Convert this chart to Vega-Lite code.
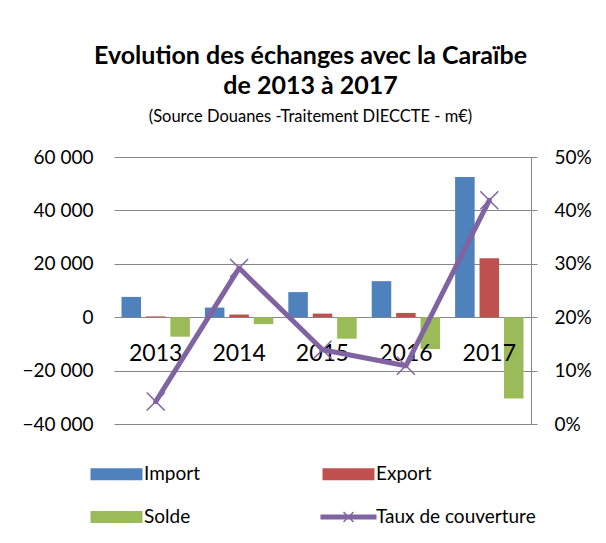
{
  "$schema": "https://vega.github.io/schema/vega-lite/v6.json",
  "width": 417,
  "height": 267,
  "autosize": "none",
  "padding": {"left": 114, "top": 157, "right": 75, "bottom": 119},
  "background": "white",
  "config": {
    "view": {"stroke": null},
    "font": "Lato",
    "axis": {"labelFont": "Lato", "labelColor": "#000000"},
    "legend": {"labelFont": "Lato"}
  },
  "title": {
    "text": ["Evolution des échanges avec la Caraïbe", "de 2013 à 2017"],
    "subtitle": "(Source Douanes -Traitement DIECCTE - m€)",
    "anchor": "middle",
    "dx": -12,
    "font": "Lato",
    "fontSize": 25,
    "fontWeight": "bold",
    "lineHeight": 30,
    "color": "#000000",
    "subtitleFont": "Lato",
    "subtitleFontSize": 16.5,
    "subtitleColor": "#000000",
    "subtitlePadding": 10,
    "offset": 23
  },
  "datasets": {
    "bars": [
      {"year": "2013", "serie": "Import", "value": 7600},
      {"year": "2013", "serie": "Export", "value": 300},
      {"year": "2013", "serie": "Solde", "value": -7300},
      {"year": "2014", "serie": "Import", "value": 3600},
      {"year": "2014", "serie": "Export", "value": 1000},
      {"year": "2014", "serie": "Solde", "value": -2600},
      {"year": "2015", "serie": "Import", "value": 9400},
      {"year": "2015", "serie": "Export", "value": 1350},
      {"year": "2015", "serie": "Solde", "value": -8050},
      {"year": "2016", "serie": "Import", "value": 13500},
      {"year": "2016", "serie": "Export", "value": 1600},
      {"year": "2016", "serie": "Solde", "value": -11900},
      {"year": "2017", "serie": "Import", "value": 52550},
      {"year": "2017", "serie": "Export", "value": 22100},
      {"year": "2017", "serie": "Solde", "value": -30450}
    ],
    "taux": [
      {"year": "2013", "taux": 0.042},
      {"year": "2014", "taux": 0.292},
      {"year": "2015", "taux": 0.139},
      {"year": "2016", "taux": 0.109},
      {"year": "2017", "taux": 0.419}
    ]
  },
  "encoding": {
    "x": {
      "field": "year",
      "type": "nominal",
      "scale": {"paddingInner": 0.18, "paddingOuter": 0.09},
      "axis": null
    }
  },
  "layer": [
    {
      "data": {"name": "bars"},
      "mark": {"type": "bar"},
      "encoding": {
        "xOffset": {
          "field": "serie",
          "type": "nominal",
          "scale": {"domain": ["Import", "Export", "Solde"], "paddingInner": 0.2, "paddingOuter": 0}
        },
        "y": {
          "field": "value",
          "type": "quantitative",
          "scale": {"domain": [-40000, 60000], "nice": false, "zero": false},
          "axis": {
            "title": null,
            "values": [-40000, -20000, 0, 20000, 40000, 60000],
            "labelExpr": "replace(format(datum.value, ',.0f'), ',', ' ')",
            "domain": false,
            "ticks": false,
            "grid": true,
            "gridColor": "#868686",
            "gridWidth": 1,
            "gridOpacity": 1,
            "labelFontSize": 19,
            "labelPadding": 21,
            "labelColor": "#000000"
          }
        },
        "color": {
          "field": "serie",
          "type": "nominal",
          "scale": {
            "domain": ["Import", "Export", "Solde", "Taux de couverture"],
            "range": ["#4F81BD", "#C0504D", "#9BBB59", "#8064A2"]
          },
          "legend": {
            "title": null,
            "orient": "none",
            "legendX": -7,
            "legendY": 307.5,
            "columns": 2,
            "direction": "horizontal",
            "padding": 0,
            "symbolSize": 144,
            "symbolStrokeWidth": 0,
            "symbolOpacity": 1,
            "labelOffset": 18,
            "labelFontSize": 19,
            "labelColor": "#000000",
            "rowPadding": 23,
            "columnPadding": 120,
            "labelLimit": 300,
            "encode": {
              "symbols": {
                "update": {
                  "shape": {"signal": "datum.value === 'Taux de couverture' ? 'M-4.67,-0.417H4.67V0.417H-4.67Z M-0.745,-0.921L0.921,0.745L0.745,0.921L-0.921,-0.745Z M-0.921,0.745L0.745,-0.921L0.921,-0.745L-0.745,0.921Z' : 'M-4.333,-1H4.333V1H-4.333Z'"}
                }
              }
            }
          }
        }
      }
    },
    {
      "data": {"name": "taux"},
      "mark": {"type": "text", "font": "Lato", "fontSize": 23, "baseline": "top", "align": "center", "dy": 26, "color": "#000000"},
      "encoding": {
        "y": {"datum": 0, "type": "quantitative", "scale": {"domain": [-40000, 60000], "nice": false, "zero": false}, "axis": null},
        "text": {"field": "year"}
      }
    },
    {
      "data": {"name": "taux"},
      "mark": {"type": "line", "color": "#8064A2", "strokeWidth": 5, "strokeJoin": "round", "strokeCap": "round"},
      "encoding": {
        "y": {
          "field": "taux",
          "type": "quantitative",
          "scale": {"domain": [0, 0.5], "nice": false},
          "axis": {
            "title": null,
            "orient": "right",
            "values": [0, 0.1, 0.2, 0.3, 0.4, 0.5],
            "format": ".0%",
            "grid": false,
            "domain": true,
            "domainColor": "#868686",
            "domainWidth": 1,
            "ticks": true,
            "tickSize": 6,
            "tickColor": "#868686",
            "tickWidth": 1,
            "labelFontSize": 19,
            "labelPadding": 17,
            "labelColor": "#000000"
          }
        }
      }
    },
    {
      "data": {"name": "taux"},
      "mark": {"type": "point", "shape": "M-1,-1L1,1M-1,1L1,-1", "size": 324, "filled": false, "color": "#8064A2", "strokeWidth": 1.5, "opacity": 1},
      "encoding": {
        "y": {"field": "taux", "type": "quantitative", "scale": {"domain": [0, 0.5], "nice": false}, "axis": null}
      }
    }
  ],
  "resolve": {"scale": {"y": "independent"}}
}
